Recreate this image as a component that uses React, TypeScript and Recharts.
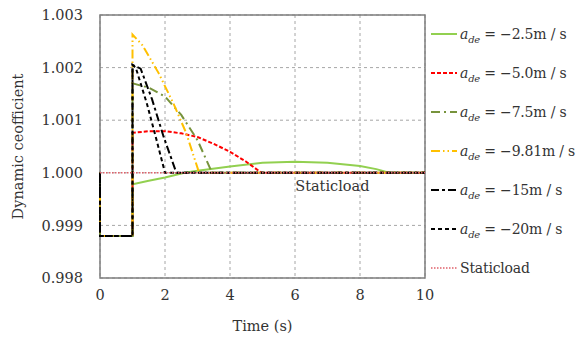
import React from 'react';
import { LineChart, Line, XAxis, YAxis, CartesianGrid, ReferenceArea, ReferenceDot } from 'recharts';

const xTicks = [0, 2, 4, 6, 8, 10];
const yTicks = [0.998, 0.999, 1.0, 1.001, 1.002, 1.003];

const t25 = [0, 0, 1, 1, 1.5, 2, 2.6, 3, 4, 5, 6, 7, 8, 8.5, 8.9, 10];
const v25 = [1, 0.9988, 0.9988, 0.99978, 0.99985, 0.99991, 1.0, 1.00004, 1.00012, 1.00019, 1.00021, 1.00019, 1.00013, 1.00007, 1.0, 1.0];

const t50 = [0, 0, 1, 1, 1.5, 2, 2.5, 3, 3.5, 4, 4.5, 4.97, 10];
const v50 = [1, 0.9988, 0.9988, 1.00076, 1.00079, 1.00079, 1.00075, 1.00068, 1.00055, 1.0004, 1.00021, 1.0, 1.0];

const t75 = [0, 0, 1, 1, 1.5, 2, 2.5, 3, 3.45, 10];
const v75 = [1, 0.9988, 0.9988, 1.0017, 1.00162, 1.00145, 1.0011, 1.00062, 1.0, 1.0];

const t981 = [0, 0, 1, 1, 1.3, 1.8, 2.25, 2.65, 3.05, 10];
const v981 = [1, 0.9988, 0.9988, 1.00263, 1.00243, 1.0019, 1.00133, 1.00076, 1.0, 1.0];

const t15 = [0, 0, 1, 1, 1.25, 1.6, 1.95, 2.35, 10];
const v15 = [1, 0.9988, 0.9988, 1.00205, 1.00198, 1.0014, 1.0007, 1.0, 1.0];

const t20 = [0, 0, 1, 1, 1.1, 1.45, 1.75, 2.0, 10];
const v20 = [1, 0.9988, 0.9988, 1.00205, 1.002, 1.0013, 1.0006, 1.0, 1.0];

const tStatic = [0, 10];
const vStatic = [1, 1];

const labels = ['−2.5m / s', '−5.0m / s', '−7.5m / s', '−9.81m / s', '−15m / s', '−20m / s'];

const toData = (t: number[], v: number[]) => t.map((x, i) => ({ t: x, v: v[i] }));

const FONT = '"DejaVu Serif", serif';
const FS = 14.5;
const TXT = '#333';

const series = [
  { key: 's25', data: toData(t25, v25), color: '#92D050', dash: undefined as string | undefined, width: 2, label: labels[0] },
  { key: 's50', data: toData(t50, v50), color: '#FF0000', dash: '4 2', width: 2, label: labels[1] },
  { key: 's75', data: toData(t75, v75), color: '#77933C', dash: '9 4 2 4', width: 2, label: labels[2] },
  { key: 's981', data: toData(t981, v981), color: '#FFC000', dash: '9 3 1.5 3 1.5 3', width: 2, label: labels[3] },
  { key: 's15', data: toData(t15, v15), color: '#000000', dash: '8 3 3 3', width: 2, label: labels[4] },
  { key: 's20', data: toData(t20, v20), color: '#000000', dash: '4 3', width: 2, label: labels[5] },
];
const staticSeries = { key: 'static', data: toData(tStatic, vStatic), color: '#E0606A', dash: '1.5 1.5', width: 1.5, label: 'Staticload' };

const LegendBox = () => {
  const all = [...series, staticSeries];
  return (
    <div style={{ position: 'absolute', left: 430, top: 14, width: 146, fontSize: 14, letterSpacing: -0.2, color: TXT, fontFamily: FONT }}>
      {all.map((s, i) => (
        <div key={s.key} style={{ height: 39, display: 'flex', alignItems: 'center', whiteSpace: 'nowrap' }}>
          <svg width={28} height={10} style={{ marginRight: 2 }}>
            <line x1={1} y1={5} x2={27} y2={5} stroke={s.color} strokeWidth={s.width} strokeDasharray={s.dash} />
          </svg>
          {i < 6 ? (
            <span>
              <i>a</i>
              <sub style={{ fontSize: 10, fontStyle: 'italic', verticalAlign: 'sub', lineHeight: 0 }}>de</sub>
              {' = ' + s.label}
            </span>
          ) : (
            <span>{s.label}</span>
          )}
        </div>
      ))}
    </div>
  );
};

export default function App() {
  return (
    <div style={{ position: 'absolute', left: 0, top: 0, width: 576, height: 338, background: '#fff' }}>
      <LineChart width={576} height={338} margin={{ top: 15, right: 151, bottom: 0, left: 10 }} style={{ fontFamily: FONT }}>
        <CartesianGrid stroke="#a6a6a6" strokeDasharray="3 3" />
        <XAxis
          dataKey="t"
          type="number"
          domain={[0, 10]}
          ticks={xTicks}
          allowDuplicatedCategory={false}
          axisLine={false}
          tickLine={false}
          tickSize={0}
          tickMargin={12}
          height={60}
          tick={{ fill: TXT, fontSize: FS, fontFamily: FONT }}
          label={{ value: 'Time (s)', position: 'insideBottom', offset: 7, fill: TXT, fontSize: FS, fontFamily: FONT }}
        />
        <YAxis
          type="number"
          domain={[0.998, 1.003]}
          ticks={yTicks}
          allowDataOverflow
          axisLine={false}
          tickLine={false}
          tickSize={0}
          tickMargin={17}
          width={90}
          tickFormatter={(v: number) => v.toFixed(3)}
          tick={{ fill: TXT, fontSize: FS, fontFamily: FONT }}
          label={{ value: 'Dynamic ceofficient', angle: -90, position: 'insideLeft', offset: 8, fill: TXT, fontSize: FS, fontFamily: FONT, style: { textAnchor: 'middle' } }}
        />
        <ReferenceArea x1={0} x2={10} y1={0.998} y2={1.003} fill="none" fillOpacity={0} stroke="#7f7f7f" strokeWidth={1.5} />
        {series.map((s) => (
          <Line
            key={s.key}
            data={s.data}
            dataKey="v"
            type="linear"
            stroke={s.color}
            strokeWidth={s.width}
            strokeDasharray={s.dash}
            dot={false}
            activeDot={false}
            isAnimationActive={false}
          />
        ))}
        <Line
          data={staticSeries.data}
          dataKey="v"
          type="linear"
          stroke={staticSeries.color}
          strokeWidth={staticSeries.width}
          strokeDasharray={staticSeries.dash}
          dot={false}
          activeDot={false}
          isAnimationActive={false}
        />
        <ReferenceDot x={7.15} y={0.99975} r={0} stroke="none" fill="none" label={{ value: 'Staticload', position: 'center', fill: TXT, fontSize: FS, fontFamily: FONT }} />
      </LineChart>
      <LegendBox />
    </div>
  );
}
